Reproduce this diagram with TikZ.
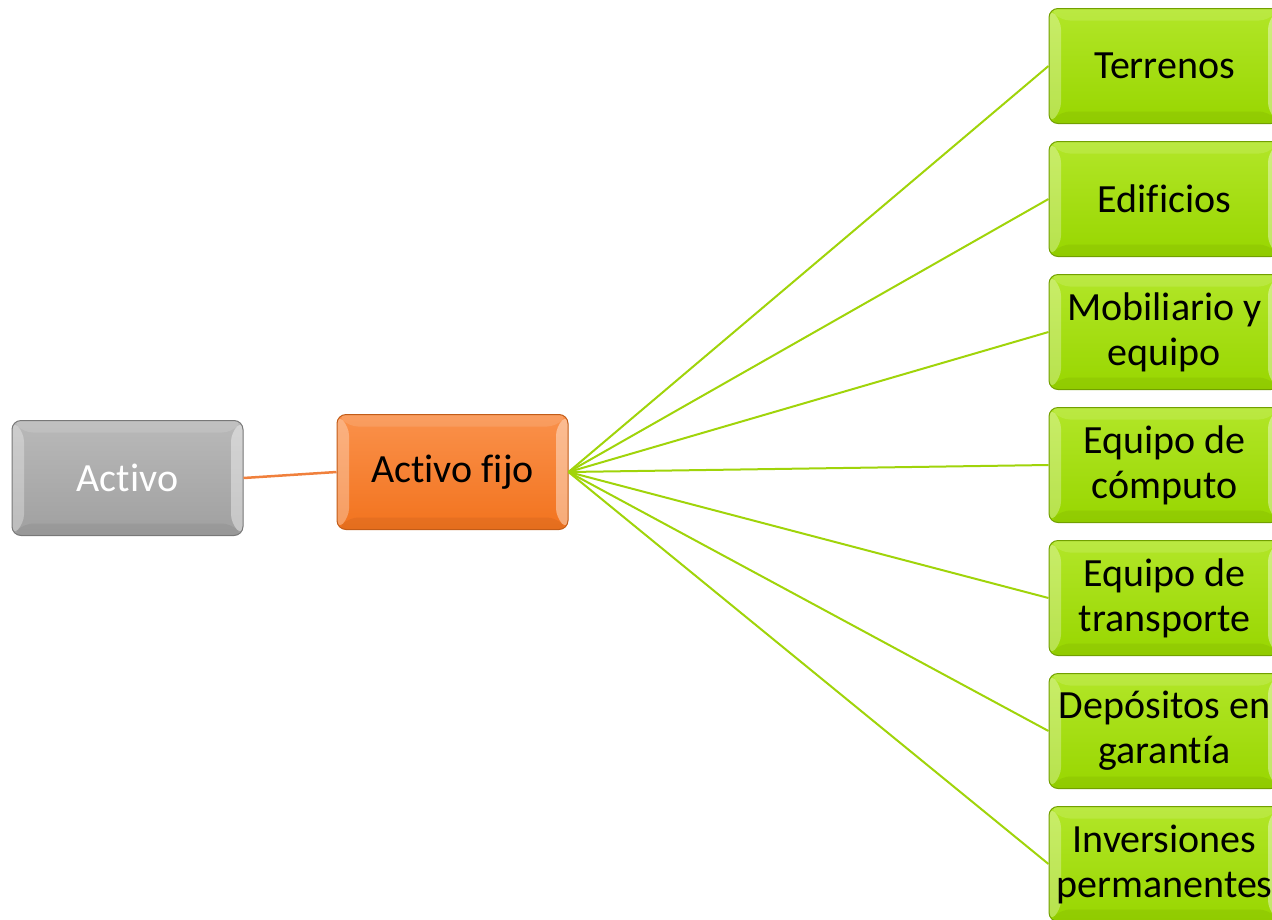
\documentclass[tikz,border=0pt]{standalone}
\usepackage{fontspec}
\setmainfont{Carlito}[Ligatures=NoCommon]
\usetikzlibrary{positioning}

\definecolor{greyTop}{RGB}{185,185,185}
\definecolor{greyBot}{RGB}{160,160,160}
\definecolor{orangeTop}{RGB}{250,145,75}
\definecolor{orangeBot}{RGB}{242,115,30}
\definecolor{greenTop}{RGB}{178,230,40}
\definecolor{greenBot}{RGB}{152,214,0}
\definecolor{greenLine}{RGB}{160,212,10}
\definecolor{orangeLine}{RGB}{240,128,60}

\tikzset{
	bevel/.style={path picture={
		\fill[white,opacity=0.3] (path picture bounding box.south west) -- (path picture bounding box.north west)
			-- ([shift={(12pt,-12pt)}]path picture bounding box.north west) -- ([shift={(12pt,12pt)}]path picture bounding box.south west) -- cycle;
		\fill[white,opacity=0.4] (path picture bounding box.south east) -- (path picture bounding box.north east)
			-- ([shift={(-12pt,-12pt)}]path picture bounding box.north east) -- ([shift={(-12pt,12pt)}]path picture bounding box.south east) -- cycle;
		\fill[white,opacity=0.12] (path picture bounding box.north west) -- (path picture bounding box.north east)
			-- ([shift={(-12pt,-12pt)}]path picture bounding box.north east) -- ([shift={(12pt,-12pt)}]path picture bounding box.north west) -- cycle;
		\fill[black,opacity=0.05] (path picture bounding box.south west) -- (path picture bounding box.south east)
			-- ([shift={(-12pt,12pt)}]path picture bounding box.south east) -- ([shift={(12pt,12pt)}]path picture bounding box.south west) -- cycle;
	}},
	box/.style={bevel, rounded corners=9pt, minimum width=231pt, minimum height=115pt,
		inner sep=0pt, align=center, line width=1pt, font=\fontsize{40}{45}\selectfont},
	greyBox/.style={box, draw=greyBot!75!black, top color=greyTop, bottom color=greyBot, text=white},
	orangeBox/.style={box, draw=orangeBot!80!black, top color=orangeTop, bottom color=orangeBot, text=black},
	greenBox/.style={box, draw=greenBot!75!black, top color=greenTop, bottom color=greenBot, text=black},
	greenLink/.style={draw=greenLine, line width=2pt},
	orangeLink/.style={draw=orangeLine, line width=2.5pt}
}

\begin{document}
\begin{tikzpicture}[x=1pt,y=-1pt]
		\useasboundingbox (0,0) rectangle (1272,919);
		\clip (0,0) rectangle (1272,919);

		\node[greyBox]   (activo) at (127.5,478) {Activo};
		\node[orangeBox] (fijo)   at (452.5,472) {Activo fijo};

		\node[greenBox] (terrenos)    at (1164.5,66) {Terrenos};
		\node[greenBox] (edificios)   at (1164.5,199) {Edificios};
		\node[greenBox] (mobiliario)  at (1164.5,332) {Mobiliario y\\equipo};
		\node[greenBox] (computo)     at (1164.5,465) {Equipo de\\cómputo};
		\node[greenBox] (transporte)  at (1164.5,598) {Equipo de\\transporte};
		\node[greenBox] (depositos)   at (1164.5,731) {Depósitos en\\garantía};
		\node[greenBox] (inversiones) at (1164.5,864) {Inversiones\\permanentes};

		\draw[orangeLink] (activo.east) -- (fijo.west);
		\draw[greenLink] (fijo.east) -- (terrenos.west);
		\draw[greenLink] (fijo.east) -- (edificios.west);
		\draw[greenLink] (fijo.east) -- (mobiliario.west);
		\draw[greenLink] (fijo.east) -- (computo.west);
		\draw[greenLink] (fijo.east) -- (transporte.west);
		\draw[greenLink] (fijo.east) -- (depositos.west);
		\draw[greenLink] (fijo.east) -- (inversiones.west);

	\end{tikzpicture}
\end{document}
